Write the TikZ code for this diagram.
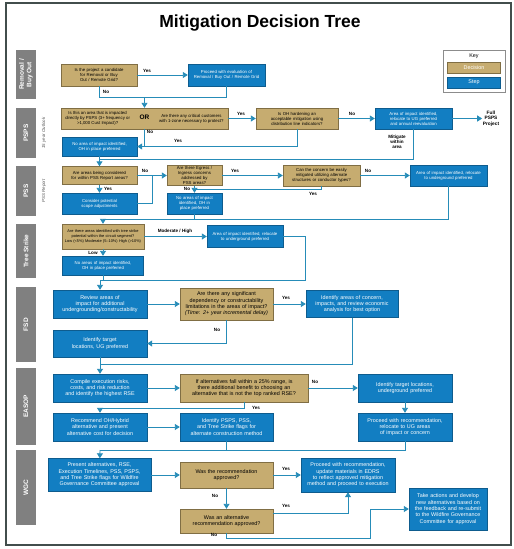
\documentclass[tikz,border=0pt]{standalone}
\usepackage{fontspec}
\setmainfont{Liberation Sans}
\usetikzlibrary{arrows.meta}

\hyphenpenalty=10000
\exhyphenpenalty=10000

\definecolor{tanfill}{RGB}{198,172,112}
\definecolor{tanline}{RGB}{128,110,68}
\definecolor{stepfill}{RGB}{18,126,194}
\definecolor{stepline}{RGB}{14,92,142}
\definecolor{linkcol}{RGB}{38,140,184}
\definecolor{lanefill}{RGB}{128,128,128}
\definecolor{framecol}{RGB}{66,78,76}

\tikzset{
  decision/.style={draw=tanline, fill=tanfill, text=black, align=center,
    inner xsep=5pt, inner ysep=0.5pt, font=\fontsize{4.3}{5}\selectfont},
  stepbox/.style={draw=stepline, fill=stepfill, text=white, align=center,
    inner xsep=5pt, inner ysep=0.5pt, font=\fontsize{4.3}{5}\selectfont},
  big/.style={inner xsep=3pt, font=\fontsize{5.4}{6.3}\selectfont},
  lane/.style={fill=lanefill, text=white, rotate=90, align=center,
    minimum height=20pt, inner sep=1pt, font=\fontsize{6.5}{7.4}\selectfont\bfseries},
  sublane/.style={rotate=90, text=black!65, inner sep=0.5pt,
    font=\fontsize{4.4}{5}\selectfont\itshape},
  link/.style={draw=linkcol, line width=0.9pt, -{Triangle[length=5pt,width=6pt]}},
  wire/.style={draw=linkcol, line width=0.9pt},
  lbl/.style={inner sep=0.5pt, font=\fontsize{4.6}{5.2}\selectfont\bfseries},
}

\begin{document}
\begin{tikzpicture}[x=1pt, y=-1pt]

  \useasboundingbox (0,0) rectangle (514,549);
  \fill[white] (0,0) rectangle (514,549);
  \draw[framecol, line width=2.5pt] (6,3) rectangle (511,545);

  \node[font=\fontsize{17.5}{20}\selectfont\bfseries] (title) at (260,23) {Mitigation Decision Tree};

  % key
  \node[draw=black!45, fill=white, minimum width=62pt, minimum height=42pt] (key) at (474,71) {};
  \node[font=\fontsize{5.4}{6}\selectfont] (keyt) at (474,56.5) {Key};
  \node[decision, text=white, minimum width=53pt, minimum height=11pt, font=\fontsize{5.4}{6}\selectfont] (keyd) at (474,67.5) {Decision};
  \node[stepbox, minimum width=53pt, minimum height=11pt, font=\fontsize{5.4}{6}\selectfont] (keys) at (474,82.5) {Step};

  % lanes
  \foreach \nm/\yc/\len/\txt in {buy/74.5/49/{Removal /\\ Buy Out}, psps/133/50/PSPS, pss/191/50/PSS,
      tree/251/54/Tree Strike, fsd/324.5/75/FSD, easop/406.5/77/EASOP, wgc/487.5/75/WGC}
    \node[lane, minimum width=\len pt] (lane-\nm) at (26,\yc) {\txt};
  \node[sublane] (sub-psps) at (44,133) {15 year Outlook};
  \node[sublane] (sub-pss) at (44,191) {PSS Report};

  % removal / buy out
  \node[decision, text width=66pt, minimum height=22pt] (buyq) at (99,75) {Is the project a candidate for Removal or Buy Out / Remote Grid?};
  \node[stepbox, text width=67pt, minimum height=22pt] (buyeval) at (226.5,75) {Proceed with evaluation of Removal / Buy Out / Remote Grid};
  \draw[link] (buyq) -- (buyeval);
  \node[lbl] (yes-buy) at (147,71) {Yes};
  \coordinate (j0) at (144.5,97);
  \draw[wire] (buyq.south) |- (j0);
  \draw[wire] (buyeval.south) |- (j0);
  \node[lbl] (no-buy) at (106,92) {No};

  % PSPS
  \node[decision, minimum width=167pt, minimum height=21pt, inner xsep=0pt] (pspsq) at (144.5,118.5)
    {\parbox{66pt}{\centering Is this an area that is impacted directly by PSPS (3+ frequency or >1,000 Cust Impact)?}\hspace{9pt}{\fontsize{6.5}{7}\selectfont\bfseries OR}\hspace{9pt}\parbox{66pt}{\centering Are there any critical customers with 1-zone necessary to protect?}};
  \draw[link] (j0) -- (pspsq);
  \node[decision, text width=72pt, minimum height=21pt] (ohq) at (297,118.5) {Is OH hardening an acceptable mitigation using distribution line indicators?};
  \node[stepbox, text width=67pt, minimum height=21pt] (ugpsps) at (413.5,118.5) {Area of impact identified, relocate to UG preferred and annual reevaluation};
  \node[align=center, inner sep=0.5pt, font=\fontsize{4.8}{5.6}\selectfont\bfseries] (fullpsps) at (491,118.5) {Full\\PSPS\\Project};
  \node[stepbox, text width=65pt, minimum height=19pt] (ohpsps) at (99.5,146.5) {No area of impact identified, OH in place preferred};
  \draw[link] (pspsq) -- (ohq);
  \node[lbl] (yes-psps) at (241,113.5) {Yes};
  \draw[link] (ohq) -- (ugpsps);
  \node[lbl] (no-psps) at (352,114) {No};
  \draw[link] (ugpsps) -- (fullpsps);
  \draw[link] (ohq.south) |- (ohpsps.east);
  \node[lbl] (yes-oh) at (178,141) {Yes};
  \draw[wire] (pspsq.south) -- (pspsq.south |- ohpsps.east);
  \node[lbl] (no-oh) at (150,132) {No};
  \node[lbl, align=center] (mitig) at (397,142) {Mitigate\\within\\area};
  \coordinate (j3) at (99.5,159);
  \draw[wire] (ugpsps.south) |- (j3);

  % PSS
  \node[decision, text width=65pt, minimum height=18pt] (pssq) at (99.5,175.5) {Are areas being considered for within PSS Report areas?};
  \node[stepbox, text width=65pt, minimum height=21pt] (scope) at (99.5,203.5) {Consider potential scope adjustments};
  \node[decision, text width=49pt, inner xsep=3pt, minimum height=20pt] (egress) at (194.5,175.5) {Are there Egress / Ingress concerns addressed by PSS areas?};
  \node[stepbox, text width=47pt, inner xsep=4pt, minimum height=21pt] (ohpss) at (194.5,203.5) {No areas of impact identified, OH in place preferred};
  \node[decision, text width=67pt, minimum height=21pt] (altq) at (321.5,175.5) {Can the concern be easily mitigated utilizing alternate structures or conductor types?};
  \node[stepbox, text width=67pt, minimum height=21pt] (ugpss) at (448.5,175.5) {Area of impact identified, relocate to underground preferred};
  \draw[link] (ohpsps) -- (pssq);
  \coordinate (j4) at (152,175.5);
  \draw[link] (pssq) -- (egress);
  \node[lbl] (no-pss) at (145,171) {No};
  \draw[wire] (scope.east) -| (j4);
  \draw[link] (pssq) -- (scope);
  \node[lbl] (yes-pss) at (108,189) {Yes};
  \draw[link] (egress) -- (altq);
  \node[lbl] (yes-egress) at (235,171) {Yes};
  \draw[link] (altq) -- (ugpss);
  \node[lbl] (no-alt) at (368,171) {No};
  \draw[link] (egress) -- (ohpss);
  \node[lbl] (no-egress) at (187,189) {No};
  \coordinate (j5) at (194.5,189);
  \draw[wire] (altq.south) |- (j5);
  \node[lbl] (yes-alt) at (313,194) {Yes};
  \coordinate (j6) at (103,219);
  \draw[wire] (ugpss.south) |- (j6);
  \draw[wire] (ohpss.south) -- (ohpss.south |- j6);

  % tree strike
  \node[decision, text width=78pt, inner xsep=2pt, minimum height=25pt, font=\fontsize{3.9}{4.6}\selectfont] (treeq) at (103,236.5) {Are there areas identified with tree strike potential within the circuit segment?\\Low (<5\%) Moderate (5--10\%) High (>10\%)};
  \node[stepbox, text width=66pt, minimum height=22pt] (ugtree) at (245,236.5) {Area of impact identified, relocate to underground preferred};
  \node[stepbox, text width=71pt, minimum height=19pt] (ohtree) at (103,265.5) {No areas of impact identified, OH in place preferred};
  \draw[link] (j6) -- (treeq);
  \draw[link] (treeq) -- (ugtree);
  \node[lbl] (mod-tree) at (175,231.5) {Moderate / High};
  \draw[link] (treeq) -- (ohtree);
  \node[lbl] (low-tree) at (93,253) {Low};
  \coordinate (j7a) at (305,280);
  \coordinate (j7) at (100,280);
  \draw[wire] (ugtree.east) -| (j7a) -- (j7);
  \draw[wire] (ohtree.south) -- (ohtree.south |- j7);

  % FSD
  \node[stepbox, big, text width=88pt, minimum height=28pt] (review) at (100,304) {Review areas of impact for additional undergrounding/constructability};
  \node[decision, big, text width=87pt, minimum height=32pt] (depq) at (226.5,304) {Are there any significant dependency or constructability limitations in the areas of impact?\\\textit{(Time: 2+ year incremental delay)}};
  \node[stepbox, big, text width=86pt, minimum height=27pt] (concern) at (352,304) {Identify areas of concern, impacts, and review economic analysis for best option};
  \node[stepbox, big, text width=88pt, minimum height=27pt] (target) at (100,343.5) {Identify target locations, UG preferred};
  \draw[link] (j7) -- (review);
  \draw[link] (review) -- (depq);
  \draw[link] (depq) -- (concern);
  \node[lbl] (yes-dep) at (286,298) {Yes};
  \draw[link] (depq.south) |- (target.east);
  \node[lbl] (no-dep) at (217,330) {No};
  \coordinate (j9) at (100,364);
  \draw[wire] (concern.south) |- (j9);

  % EASOP
  \node[stepbox, big, text width=88pt, minimum height=28pt] (compile) at (100,388) {Compile execution risks, costs, and risk reduction and identify the highest RSE};
  \node[decision, big, text width=122pt, minimum height=28pt] (rangeq) at (244,388) {If alternatives fall within a 25\% range, is there additional benefit to choosing an alternative that is not the top ranked RSE?};
  \node[stepbox, big, text width=88pt, minimum height=28pt] (ugtarget) at (405,388) {Identify target locations, underground preferred};
  \node[stepbox, big, text width=88pt, minimum height=28pt] (proceed) at (405,427) {Proceed with recommendation, relocate to UG areas of impact or concern};
  \node[stepbox, big, text width=88pt, minimum height=28pt] (hybrid) at (100,427) {Recommend OH/Hybrid alternative and present alternative cost for decision};
  \node[stepbox, big, text width=87pt, minimum height=28pt] (flags) at (226.5,427) {Identify PSPS, PSS, and Tree Strike flags for alternate construction method};
  \draw[link] (target) -- (compile);
  \draw[link] (compile) -- (rangeq);
  \draw[link] (rangeq) -- (ugtarget);
  \node[lbl] (no-range) at (315,382) {No};
  \draw[link] (ugtarget) -- (proceed);
  \coordinate (j10) at (100,408);
  \draw[wire] (rangeq.south) |- (j10);
  \node[lbl] (yes-range) at (256,408) {Yes};
  \draw[link] (j10) -- (hybrid);
  \draw[link] (hybrid) -- (flags);
  \coordinate (j11) at (100,450);
  \draw[wire] (proceed.south) |- (j11);
  \draw[wire] (flags.south) -- (flags.south |- j11);

  % WGC
  \node[stepbox, big, text width=97pt, minimum height=33pt] (present) at (99.5,475) {Present alternatives, RSE, Execution Timelines, PSS, PSPS, and Tree Strike flags for Wildfire Governance Committee approval};
  \node[decision, big, text width=87pt, minimum height=26pt] (approvq) at (226.5,475) {Was the recommendation approved?};
  \node[stepbox, big, text width=88pt, minimum height=34pt] (execute) at (348,475) {Proceed with recommendation, update materials in EDRS to reflect approved mitigation method and proceed to execution};
  \node[decision, big, text width=87pt, minimum height=24pt] (altapprovq) at (226.5,521) {Was an alternative recommendation approved?};
  \node[stepbox, big, text width=72pt, minimum height=42pt] (resubmit) at (448,509) {Take actions and develop new alternatives based on the feedback and re-submit to the Wildfire Governance Committee for approval};
  \draw[link] (j11) -- (present);
  \draw[link] (present) -- (approvq);
  \draw[link] (approvq) -- (execute);
  \node[lbl] (yes-appr) at (286,469) {Yes};
  \draw[link] (approvq) -- (altapprovq);
  \node[lbl] (no-appr) at (215,496) {No};
  \draw[link] ([yshift=8pt]altapprovq.east) -| (execute.south);
  \node[lbl] (yes-alt-appr) at (286,506) {Yes};
  \coordinate (j12) at (370,538);
  \draw[link] (altapprovq.south) |- (j12) |- (resubmit.west);
  \node[lbl] (no-alt-appr) at (214,535) {No};

\end{tikzpicture}
\end{document}
